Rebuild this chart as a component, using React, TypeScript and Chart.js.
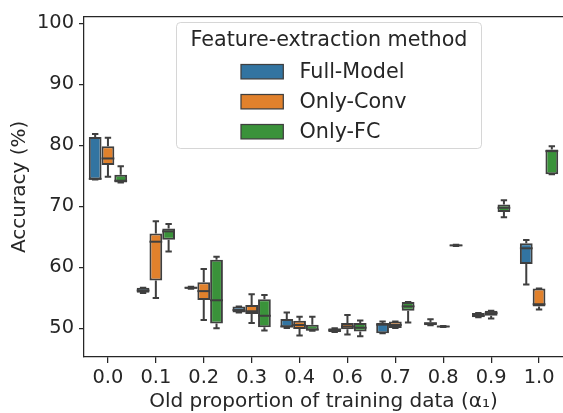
import React, { useEffect, useRef } from "react";
import { Chart, registerables } from "chart.js";
Chart.register(...registerables);

const categories = ["0.0", "0.1", "0.2", "0.3", "0.4", "0.6", "0.7", "0.8", "0.9", "1.0"];
const seriesNames = ["Full-Model", "Only-Conv", "Only-FC"];
const seriesColors = ["#3274a1", "#e1812c", "#3a923a"];
const yTicks = [50, 60, 70, 80, 90, 100];

// Full-Model
const fullMin = [74.4, 55.8, 56.5, 52.59, 50.06, 49.4, 49.19, 50.5, 51.8, 57.19];
const fullQ1 = [74.4, 55.83, 56.5, 52.59, 50.16, 49.4, 49.19, 50.5, 51.8, 60.53];
const fullMed = [74.5, 56.2, 56.65, 53.0, 50.3, 49.7, 50.6, 50.8, 52.1, 63.12];
const fullQ3 = [81.37, 56.64, 56.8, 53.56, 51.52, 50.0, 50.87, 51.0, 52.5, 63.93];
const fullMax = [81.85, 56.64, 56.8, 53.56, 52.59, 50.0, 51.13, 51.5, 52.5, 64.48];

// Only-Conv
const convMin = [74.84, 54.97, 51.36, 50.87, 48.82, 48.98, 50.06, 50.2, 51.6, 53.08];
const convQ1 = [76.79, 57.84, 54.65, 52.33, 49.9, 49.84, 50.06, 50.2, 52.06, 53.56];
const convMed = [77.85, 64.2, 56.1, 52.8, 50.55, 50.3, 50.55, 50.3, 52.5, 53.95];
const convQ3 = [79.86, 65.55, 57.56, 53.84, 51.25, 50.87, 51.13, 50.4, 52.87, 56.54];
const convMax = [81.26, 67.55, 59.72, 55.57, 51.9, 52.17, 51.13, 50.4, 52.9, 56.54];

// Only-FC
const fcMin = [73.92, 62.58, 50.0, 49.63, 49.6, 48.7, 50.97, 63.5, 68.2, 75.26];
const fcQ1 = [73.92, 64.53, 50.81, 50.16, 49.63, 49.47, 52.87, 63.5, 69.06, 75.26];
const fcMed = [74.2, 65.9, 54.6, 52.06, 49.8, 50.1, 53.6, 63.6, 69.76, 79.05];
const fcQ3 = [75.17, 66.36, 61.24, 54.76, 50.6, 50.87, 54.32, 63.7, 70.31, 79.31];
const fcMax = [76.56, 67.12, 61.72, 55.46, 51.9, 51.3, 54.32, 63.7, 71.0, 79.86];

const stats = [
  { min: fullMin, q1: fullQ1, med: fullMed, q3: fullQ3, max: fullMax },
  { min: convMin, q1: convQ1, med: convMed, q3: convQ3, max: convMax },
  { min: fcMin, q1: fcQ1, med: fcMed, q3: fcQ3, max: fcMax },
];

const EDGE = "#3f3f3f";
const TEXT = "#262626";
const FONT = "'DejaVu Sans', sans-serif";

const boxPlugin = {
  id: "boxExtras",
  beforeDatasetsDraw(chart: any) {
    const ctx = chart.ctx;
    const y = chart.scales.y;
    ctx.save();
    ctx.strokeStyle = EDGE;
    ctx.lineWidth = 2;
    stats.forEach((s, di) => {
      const meta = chart.getDatasetMeta(di);
      meta.data.forEach((el: any, j: number) => {
        const x = el.x;
        const cw = el.width * 0.5;
        const pMax = y.getPixelForValue(s.max[j]);
        const pQ3 = y.getPixelForValue(s.q3[j]);
        const pQ1 = y.getPixelForValue(s.q1[j]);
        const pMin = y.getPixelForValue(s.min[j]);
        ctx.beginPath();
        ctx.moveTo(x, pQ3);
        ctx.lineTo(x, pMax);
        ctx.moveTo(x - cw / 2, pMax);
        ctx.lineTo(x + cw / 2, pMax);
        ctx.moveTo(x, pQ1);
        ctx.lineTo(x, pMin);
        ctx.moveTo(x - cw / 2, pMin);
        ctx.lineTo(x + cw / 2, pMin);
        ctx.stroke();
      });
    });
    ctx.restore();
  },
  afterDatasetsDraw(chart: any) {
    const ctx = chart.ctx;
    const y = chart.scales.y;
    const area = chart.chartArea;
    ctx.save();
    ctx.strokeStyle = EDGE;
    ctx.lineWidth = 2;
    stats.forEach((s, di) => {
      const meta = chart.getDatasetMeta(di);
      meta.data.forEach((el: any, j: number) => {
        const pMed = y.getPixelForValue(s.med[j]);
        ctx.beginPath();
        ctx.moveTo(el.x - el.width / 2, pMed);
        ctx.lineTo(el.x + el.width / 2, pMed);
        ctx.stroke();
      });
    });
    // top spine
    ctx.strokeStyle = TEXT;
    ctx.lineWidth = 1.25;
    ctx.beginPath();
    ctx.moveTo(area.left, area.top);
    ctx.lineTo(area.right, area.top);
    ctx.stroke();

    // legend
    const lx = 176.5, ly = 22.5, lw = 305, lh = 126, r = 4;
    ctx.beginPath();
    ctx.moveTo(lx + r, ly);
    ctx.lineTo(lx + lw - r, ly);
    ctx.quadraticCurveTo(lx + lw, ly, lx + lw, ly + r);
    ctx.lineTo(lx + lw, ly + lh - r);
    ctx.quadraticCurveTo(lx + lw, ly + lh, lx + lw - r, ly + lh);
    ctx.lineTo(lx + r, ly + lh);
    ctx.quadraticCurveTo(lx, ly + lh, lx, ly + lh - r);
    ctx.lineTo(lx, ly + r);
    ctx.quadraticCurveTo(lx, ly, lx + r, ly);
    ctx.closePath();
    ctx.fillStyle = "rgba(255,255,255,0.8)";
    ctx.fill();
    ctx.strokeStyle = "rgba(204,204,204,0.8)";
    ctx.lineWidth = 1;
    ctx.stroke();

    ctx.fillStyle = TEXT;
    ctx.font = `20.7px ${FONT}`;
    ctx.textBaseline = "middle";
    ctx.textAlign = "center";
    ctx.fillText("Feature-extraction method", lx + lw / 2, 41);
    ctx.textAlign = "left";
    seriesNames.forEach((name, i) => {
      const cy = 71.7 + i * 30;
      ctx.fillStyle = seriesColors[i];
      ctx.fillRect(241, cy - 7.2, 42.3, 14.4);
      ctx.strokeStyle = EDGE;
      ctx.lineWidth = 1.25;
      ctx.strokeRect(241, cy - 7.2, 42.3, 14.4);
      ctx.fillStyle = TEXT;
      ctx.fillText(name, 299.5, cy + 1);
    });
    ctx.restore();
  },
};

export default function App() {
  const ref = useRef<HTMLCanvasElement | null>(null);
  useEffect(() => {
    if (!ref.current) return;
    const chart = new Chart(ref.current, {
      type: "bar",
      data: {
        labels: categories,
        datasets: stats.map((s, i) => ({
          label: seriesNames[i],
          data: s.q1.map((v, j) => [v, s.q3[j]]) as any,
          backgroundColor: seriesColors[i],
          borderColor: EDGE,
          borderWidth: 2,
          borderSkipped: false,
          barPercentage: 1.0,
          categoryPercentage: 0.8,
        })),
      },
      options: {
        animation: false,
        responsive: false,
        maintainAspectRatio: false,
        layout: { padding: { top: 12, right: 0, left: 0, bottom: 0 } },
        plugins: { legend: { display: false }, tooltip: { enabled: false } },
        scales: {
          x: {
            type: "category",
            offset: true,
            grid: { display: true, offset: false, drawOnChartArea: false, tickLength: 6, color: TEXT, lineWidth: 1.25 },
            border: { display: true, color: TEXT, width: 1.25 },
            ticks: { color: TEXT, font: { family: FONT, size: 19.4 }, padding: 3, maxRotation: 0, autoSkip: false },
            title: {
              display: true,
              text: "Old proportion of training data (α₁)",
              color: TEXT,
              font: { family: FONT, size: 20 },
              padding: { top: 0, bottom: -1 },
            },
            afterFit: (s: any) => { s.height = 56; },
          },
          y: {
            type: "linear",
            min: 45.3,
            max: 101.1,
            afterBuildTicks: (s: any) => { s.ticks = yTicks.map((v) => ({ value: v })); },
            grid: { display: true, drawOnChartArea: false, tickLength: 5, color: TEXT, lineWidth: 1.25 },
            border: { display: true, color: TEXT, width: 1.25 },
            ticks: { color: TEXT, font: { family: FONT, size: 19.4 }, padding: 5 },
            title: {
              display: true,
              text: "Accuracy (%)",
              color: TEXT,
              font: { family: FONT, size: 20 },
              padding: { top: 8, bottom: 0 },
            },
            afterFit: (s: any) => { s.width = 84; },
          },
        },
      },
      plugins: [boxPlugin],
    });
    return () => chart.destroy();
  }, []);
  return (
    <div style={{ position: "absolute", left: 0, top: 0, width: 563, height: 413, background: "#fff" }}>
      <canvas ref={ref} width={563} height={413} style={{ display: "block" }} />
    </div>
  );
}
